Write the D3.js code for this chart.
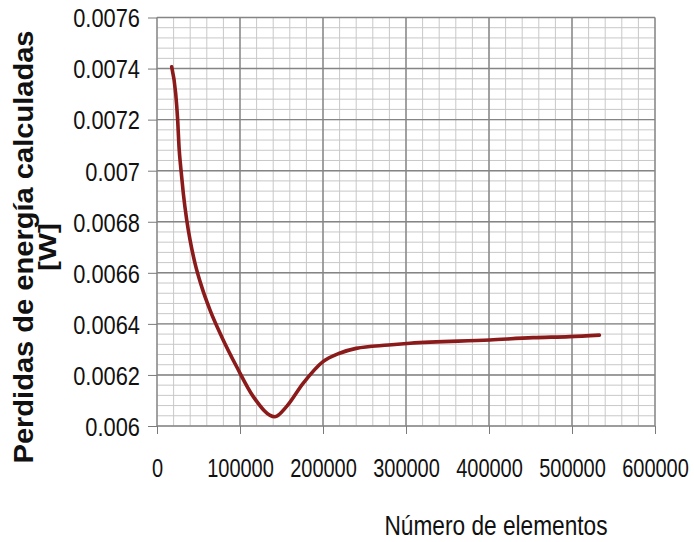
<!DOCTYPE html>
<html>
<head>
<meta charset="utf-8">
<script src="https://cdn.jsdelivr.net/npm/d3@7"></script>
<style>
  body { margin: 0; background: #fff; }
  .tick text { font-family: "Liberation Sans", Arial, sans-serif; fill: #111; }
  .axis path { display: none; }
  .axis line { stroke: #7a7a7a; }
</style>
</head>
<body>
<svg width="694" height="542"></svg>
<script>
// number of mesh elements vs computed energy losses
const elementos = [17700, 22500, 24900, 26500, 28900, 31700, 35800, 39800, 45800, 53900, 63900,
  77900, 96000, 116000, 142000, 156000, 176000, 200000, 220000, 240000, 279000, 305000,
  401000, 453000, 497000, 533000];
const perdidas = [0.007407, 0.007303, 0.007199, 0.007094, 0.007003, 0.006911, 0.006807, 0.006729,
  0.006637, 0.006545, 0.006454, 0.006350, 0.006232, 0.006115, 0.006036, 0.006076, 0.006167,
  0.006252, 0.006285, 0.006304, 0.006317, 0.006324, 0.006337, 0.006346, 0.006350, 0.006356];

const xTicks = [0, 100000, 200000, 300000, 400000, 500000, 600000];
const yTicks = [0.006, 0.0062, 0.0064, 0.0066, 0.0068, 0.007, 0.0072, 0.0074, 0.0076];
const yTickLabels = ["0.006", "0.0062", "0.0064", "0.0066", "0.0068", "0.007", "0.0072", "0.0074", "0.0076"];

let svg = d3.select("svg");

let x = d3.scaleLinear().domain([0, 600000]).range([157, 655]);
let y = d3.scaleLinear().domain([0.006, 0.0076]).range([426, 17.5]);

// minor grid
let grid = svg.append("g");
let xMinor = d3.range(0, 600001, 20000);
let yMinor = d3.range(0, 41).map(i => 0.006 + i * 0.00004);

grid.selectAll(".vminor").data(xMinor).enter().append("line")
  .attr("x1", d => x(d)).attr("x2", d => x(d))
  .attr("y1", y(0.0076)).attr("y2", y(0.006))
  .attr("stroke", "#c8c8c8").attr("stroke-width", 1);

grid.selectAll(".hminor").data(yMinor).enter().append("line")
  .attr("x1", x(0)).attr("x2", x(600000))
  .attr("y1", d => y(d)).attr("y2", d => y(d))
  .attr("stroke", "#c8c8c8").attr("stroke-width", 1);

// major grid
grid.selectAll(".vmajor").data(xTicks).enter().append("line")
  .attr("x1", d => x(d)).attr("x2", d => x(d))
  .attr("y1", y(0.0076)).attr("y2", y(0.006))
  .attr("stroke", "#858585").attr("stroke-width", 1.4);

grid.selectAll(".hmajor").data(yTicks).enter().append("line")
  .attr("x1", x(0)).attr("x2", x(600000))
  .attr("y1", d => y(d)).attr("y2", d => y(d))
  .attr("stroke", "#858585").attr("stroke-width", 1.4);

// axes
let xAxis = svg.append("g")
  .attr("class", "axis")
  .attr("transform", "translate(0," + y(0.006) + ")")
  .call(d3.axisBottom(x).tickValues(xTicks).tickSize(8).tickFormat(d3.format("d")));

xAxis.selectAll(".tick text")
  .attr("y", 51).attr("dy", 0)
  .attr("transform", "scale(0.8,1)")
  .style("font-size", "25px");

let yAxis = svg.append("g")
  .attr("class", "axis")
  .attr("transform", "translate(" + x(0) + ",0)")
  .call(d3.axisLeft(y).tickValues(yTicks).tickSize(9)
    .tickFormat((d, i) => yTickLabels[i]));

// narrow labels: right edge sits ~17px left of the axis
yAxis.selectAll(".tick text")
  .attr("x", -17 / 0.84).attr("dy", "0.36em")
  .attr("transform", "scale(0.84,1)")
  .style("font-size", "26px");

// curve
let line = d3.line()
  .x((d, i) => x(elementos[i]))
  .y(d => y(d))
  .curve(d3.curveMonotoneX);

svg.append("path")
  .datum(perdidas)
  .attr("d", line)
  .attr("fill", "none")
  .attr("stroke", "#8b1a1a")
  .attr("stroke-width", 3.6)
  .attr("stroke-linejoin", "round")
  .attr("stroke-linecap", "round");

// titles
svg.append("text")
  .attr("x", 496).attr("y", 535)
  .attr("text-anchor", "middle")
  .attr("textLength", 223).attr("lengthAdjust", "spacingAndGlyphs")
  .style("font-family", '"Liberation Sans", Arial, sans-serif')
  .style("font-size", "28px")
  .attr("fill", "#111")
  .text("Número de elementos");

let yt = svg.append("g").attr("transform", "translate(0,247) rotate(-90)");
yt.append("text")
  .attr("x", 0).attr("y", 33)
  .attr("text-anchor", "middle")
  .attr("textLength", 433).attr("lengthAdjust", "spacingAndGlyphs")
  .style("font-family", '"Liberation Sans", Arial, sans-serif')
  .style("font-weight", "bold").style("font-size", "27px")
  .attr("fill", "#111")
  .text("Perdidas de energía calculadas");
yt.append("text")
  .attr("x", 0).attr("y", 56)
  .attr("text-anchor", "middle")
  .attr("textLength", 48).attr("lengthAdjust", "spacingAndGlyphs")
  .style("font-family", '"Liberation Sans", Arial, sans-serif')
  .style("font-weight", "bold").style("font-size", "23px")
  .attr("fill", "#111")
  .text("[W]");
</script>
</body>
</html>
